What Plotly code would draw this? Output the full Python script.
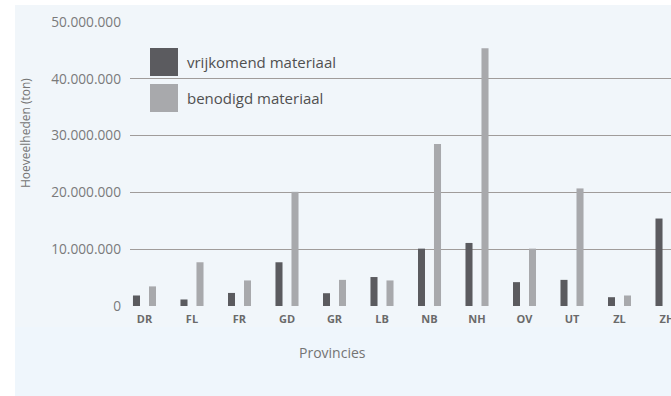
import plotly.graph_objects as go

provinces = ["DR", "FL", "FR", "GD", "GR", "LB", "NB", "NH", "OV", "UT", "ZL", "ZH"]
vrijkomend = [1.85e6, 1.15e6, 2.3e6, 7.7e6, 2.25e6, 5.1e6, 10.1e6, 11.1e6, 4.2e6, 4.6e6, 1.55e6, 15.4e6]
benodigd = [3.45e6, 7.7e6, 4.5e6, 20.1e6, 4.6e6, 4.5e6, 28.5e6, 45.4e6, 10.1e6, 20.7e6, 1.85e6, None]
series_names = ["vrijkomend materiaal", "benodigd materiaal"]
series_colors = ["#5b5b5f", "#a8a9ac"]
y_ticks = [0, 10e6, 20e6, 30e6, 40e6, 50e6]
y_ticktext = ["0", "10.000.000", "20.000.000", "30.000.000", "40.000.000", "50.000.000"]

W, H = 671, 396
L, R, T, B = 130, 0, 22, 90
PW, PH = W - L - R, H - T - B


def xp(px):
    return (px - L) / PW


def yp(py):
    return (H - B - py) / PH


fig = go.Figure()
fig.add_trace(go.Bar(x=provinces, y=vrijkomend, name=series_names[0],
                     marker=dict(color=series_colors[0], line=dict(width=0))))
fig.add_trace(go.Bar(x=provinces, y=benodigd, name=series_names[1],
                     marker=dict(color=series_colors[1], line=dict(width=0))))

shapes = [
    dict(type="rect", xref="paper", yref="paper", x0=xp(15), x1=xp(W + 5), y0=yp(H + 5), y1=yp(5),
         fillcolor="#eff6fc", line=dict(width=0), layer="below"),
    dict(type="rect", xref="paper", yref="paper", x0=xp(15), x1=xp(W + 5), y0=yp(327), y1=yp(5),
         fillcolor="#f1f6fa", line=dict(width=0), layer="below"),
]
annotations = []
leg_y = [62, 98]
for name, color, cy in zip(series_names, series_colors, leg_y):
    shapes.append(dict(type="rect", xref="paper", yref="paper",
                       x0=xp(150), x1=xp(178), y0=yp(cy + 14), y1=yp(cy - 14),
                       fillcolor=color, line=dict(width=0), layer="above"))
    annotations.append(dict(text=name, xref="paper", yref="paper", x=xp(185), y=yp(cy),
                            xanchor="left", yanchor="middle", showarrow=False,
                            font=dict(family="Open Sans", size=15, color="#505050")))

annotations.append(dict(text="Hoeveelheden (ton)", xref="paper", yref="paper", x=xp(25), y=yp(133),
                        textangle=-90, xanchor="center", yanchor="middle", showarrow=False,
                        font=dict(family="Open Sans", size=12, color="#747474")))
annotations.append(dict(text="Provincies", xref="paper", yref="paper", x=xp(332), y=yp(352),
                        xanchor="center", yanchor="middle", showarrow=False,
                        font=dict(family="Open Sans", size=14, color="#747474")))

fig.update_layout(
    width=W, height=H,
    margin=dict(l=L, r=R, t=T, b=B, pad=0, autoexpand=False),
    paper_bgcolor="#ffffff",
    plot_bgcolor="rgba(0,0,0,0)",
    barmode="group", bargap=0.326, bargroupgap=0.56,
    showlegend=False,
    shapes=shapes,
    annotations=annotations,
    xaxis=dict(range=[-0.305, 11.084], showgrid=False, zeroline=False, showline=False,
               automargin=False,
               tickfont=dict(family="Open Sans", size=11, color="#6a6a6a", weight="bold"),
               ticks="", ticklabelstandoff=5, fixedrange=True),
    yaxis=dict(range=[0, 50e6], tickvals=y_ticks, ticktext=y_ticktext,
               automargin=False,
               showgrid=True, gridcolor="#a09c9a", gridwidth=1,
               zeroline=True, zerolinecolor="#f1f6fa", zerolinewidth=1,
               showline=False, ticks="", ticklabelstandoff=8,
               tickfont=dict(family="Open Sans", size=13.7, color="#7a7a7a")),
    font=dict(family="Open Sans"),
)

fig.write_html("out.html")
